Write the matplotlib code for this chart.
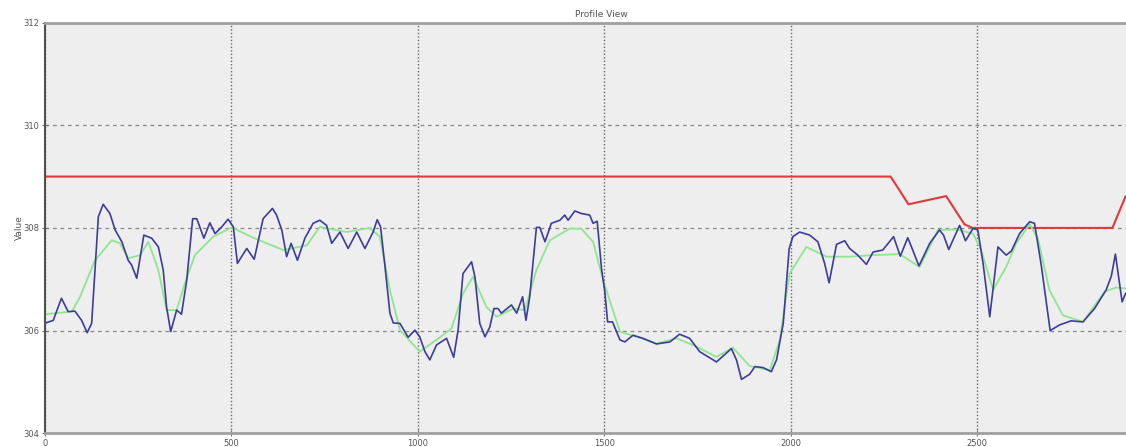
import matplotlib.pyplot as plt

# raw profile (blue)
raw_x = [2, 22, 44, 62, 80, 98, 113, 125, 143, 156, 174, 188, 206, 223, 232, 246, 265, 286, 304, 317,
         326, 337, 353, 366, 380, 396, 407, 426, 442, 456, 474, 491, 505, 516, 541, 561, 585, 610, 621, 635,
         648, 660, 677, 697, 719, 737, 755, 769, 791, 813, 836, 858, 880, 891, 900, 912, 925, 934, 952, 974,
         992, 1005, 1019, 1032, 1050, 1077, 1096, 1108, 1121, 1144, 1153, 1166, 1180, 1193, 1204, 1215, 1224, 1251, 1265, 1281,
         1290, 1300, 1318, 1327, 1341, 1358, 1381, 1394, 1403, 1421, 1439, 1461, 1470, 1481, 1493, 1501, 1509, 1522, 1542, 1555,
         1577, 1604, 1640, 1676, 1702, 1729, 1756, 1801, 1841, 1855, 1868, 1890, 1904, 1926, 1948, 1962, 1980, 1996, 2006, 2024,
         2051, 2073, 2091, 2103, 2123, 2145, 2158, 2180, 2203, 2221, 2247, 2276, 2294, 2314, 2324, 2344, 2373, 2399, 2410, 2424,
         2453, 2469, 2489, 2502, 2516, 2534, 2556, 2578, 2592, 2614, 2641, 2654, 2672, 2696, 2721, 2752, 2784, 2815, 2846, 2860,
         2871, 2889, 2898]
raw_y = [306.15, 306.20, 306.63, 306.37, 306.38, 306.20, 305.96, 306.14, 308.22, 308.46, 308.28, 307.96, 307.73, 307.37, 307.28, 307.02, 307.86, 307.80, 307.63, 307.18,
         306.46, 305.98, 306.40, 306.32, 306.98, 308.18, 308.18, 307.80, 308.10, 307.89, 308.02, 308.17, 308.02, 307.31, 307.60, 307.39, 308.18, 308.38, 308.25, 307.96,
         307.44, 307.70, 307.37, 307.80, 308.09, 308.15, 308.05, 307.70, 307.92, 307.60, 307.92, 307.60, 307.92, 308.16, 308.02, 307.24, 306.34, 306.15, 306.14, 305.87,
         306.01, 305.88, 305.59, 305.43, 305.72, 305.85, 305.48, 306.01, 307.11, 307.34, 307.05, 306.14, 305.88, 306.07, 306.43, 306.43, 306.34, 306.50, 306.34, 306.66,
         306.20, 306.66, 308.01, 308.01, 307.73, 308.09, 308.15, 308.25, 308.15, 308.33, 308.28, 308.25, 308.09, 308.13, 307.18, 306.79, 306.17, 306.17, 305.82, 305.78,
         305.91, 305.85, 305.74, 305.78, 305.93, 305.85, 305.59, 305.39, 305.65, 305.42, 305.05, 305.15, 305.30, 305.28, 305.20, 305.43, 306.14, 307.60, 307.83, 307.92,
         307.86, 307.73, 307.31, 306.93, 307.68, 307.75, 307.60, 307.47, 307.29, 307.53, 307.57, 307.83, 307.45, 307.81, 307.63, 307.26, 307.70, 307.96, 307.86, 307.58,
         308.05, 307.75, 307.99, 307.96, 307.31, 306.27, 307.63, 307.47, 307.55, 307.89, 308.12, 308.09, 307.28, 306.00, 306.11, 306.19, 306.17, 306.43, 306.79, 307.06,
         307.49, 306.56, 306.72]

# smoothed profile (green)
smooth_x = [2, 27, 72, 94, 134, 179, 201, 223, 255, 277, 304, 326, 353, 375, 402, 451, 501, 558, 639, 702,
            737, 809, 871, 898, 925, 952, 1005, 1050, 1090, 1121, 1148, 1184, 1211, 1256, 1287, 1318, 1354, 1408, 1439, 1470,
            1497, 1542, 1586, 1640, 1694, 1747, 1801, 1845, 1890, 1944, 1971, 1997, 2042, 2096, 2158, 2221, 2292, 2346, 2395, 2444,
            2489, 2511, 2543, 2578, 2605, 2641, 2663, 2694, 2730, 2784, 2842, 2873, 2898]
smooth_y = [306.32, 306.34, 306.37, 306.66, 307.37, 307.76, 307.70, 307.41, 307.47, 307.73, 307.18, 306.40, 306.40, 306.92, 307.47, 307.83, 308.01, 307.81, 307.57, 307.66,
            308.02, 307.92, 308.00, 307.83, 306.79, 306.01, 305.59, 305.82, 306.04, 306.72, 307.05, 306.46, 306.27, 306.43, 306.40, 307.18, 307.76, 307.99, 307.98, 307.73,
            306.98, 305.98, 305.88, 305.75, 305.85, 305.69, 305.49, 305.67, 305.31, 305.23, 305.82, 307.11, 307.63, 307.44, 307.44, 307.47, 307.49, 307.24, 307.96, 307.97,
            307.89, 307.57, 306.79, 307.24, 307.70, 308.07, 307.80, 306.79, 306.30, 306.17, 306.76, 306.84, 306.82]

# limit line (red)
limit_x = [0, 2268, 2316, 2417, 2466, 2488, 2863, 2898]
limit_y = [309.0, 309.0, 308.46, 308.62, 308.07, 308.0, 308.0, 308.61]

fig = plt.figure(figsize=(11.26, 4.47), dpi=100)
ax = fig.add_axes([0.040, 0.0306, 0.989, 0.919])
ax.set_facecolor('#eeeeee')

ax.plot(limit_x, limit_y, color='#e03a3a', lw=1.5)
ax.plot(smooth_x, smooth_y, color='#8fe68f', lw=1.3)
ax.plot(raw_x, raw_y, color='#3c3c9c', lw=1.2)

ax.set_xlim(0, 2987)
ax.set_ylim(304, 312)
ax.set_xticks([0, 500, 1000, 1500, 2000, 2500])
ax.set_yticks([304, 306, 308, 310, 312])

# horizontal dashed, vertical dotted grid
ax.yaxis.grid(True, color='#888888', ls=(0, (3, 3)), lw=0.9)
ax.xaxis.grid(True, color='#666666', ls=(0, (1, 1.5)), lw=1.0)
ax.set_axisbelow(True)

for s in ['top', 'bottom']:
    ax.spines[s].set_color('#a0a0a0')
    ax.spines[s].set_linewidth(2)
ax.spines['left'].set_color('#505050')
ax.spines['left'].set_linewidth(1.5)
ax.spines['right'].set_visible(False)

ax.tick_params(direction='inout', length=4, width=0.8, colors='#707070', labelsize=6, labelcolor='#555555', pad=2)

ax.set_title('Profile View', fontsize=6.5, color='#555555', pad=4)
ax.set_ylabel('Value', fontsize=6.5, color='#555555', labelpad=0)

fig.savefig('out.png', dpi=100)
